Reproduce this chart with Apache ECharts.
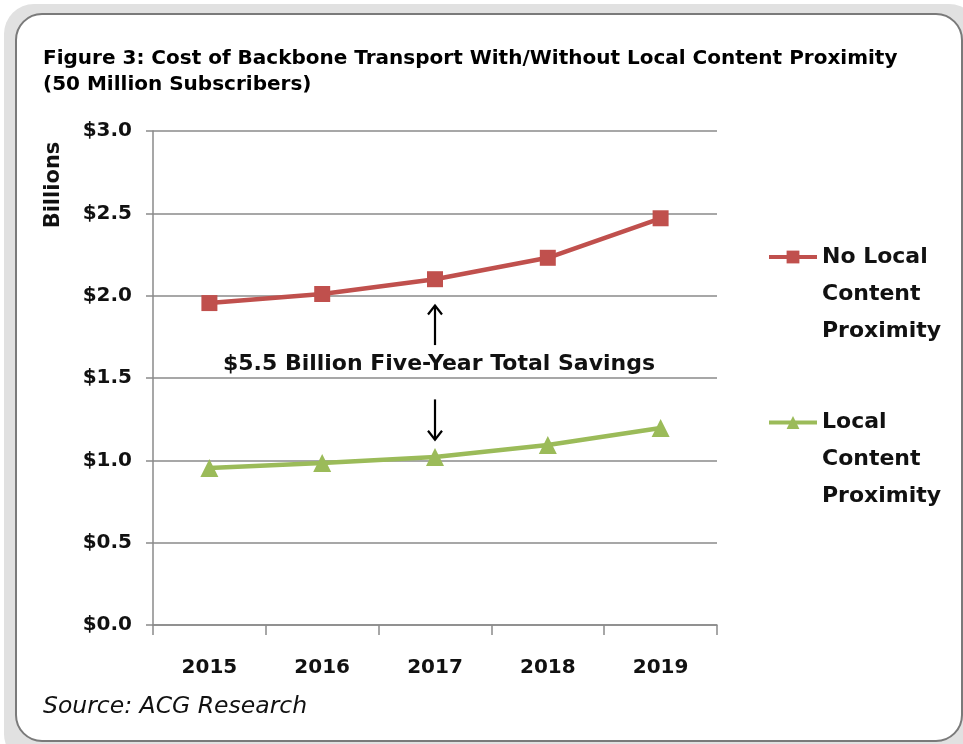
<!DOCTYPE html>
<html>
<head>
<meta charset="utf-8">
<script src="https://cdn.jsdelivr.net/npm/echarts@6/dist/echarts.min.js"></script>
<style>
html,body{margin:0;padding:0;background:#fff;}
#c{width:963px;height:744px;}
</style>
</head>
<body>
<div id="c"></div>
<script>
const categories = ['2015', '2016', '2017', '2018', '2019'];
const noLocal = [1.955, 2.01, 2.10, 2.23, 2.47];
const local = [0.953, 0.984, 1.02, 1.093, 1.196];
const yTicks = [0, 0.5, 1.0, 1.5, 2.0, 2.5, 3.0];
const seriesNames = ['No Local Content Proximity', 'Local Content Proximity'];
const titleText = 'Figure 3: Cost of Backbone Transport With/Without Local Content Proximity\n(50 Million Subscribers)';
const annotation = '$5.5 Billion Five-Year Total Savings';
const sourceText = 'Source: ACG Research';
const yAxisName = 'Billions';

const FONT = '"DejaVu Sans"';
const chart = echarts.init(document.getElementById('c'));
const LH = 37;
function splitName(n) {
  const parts = n.split(' Content ');
  return '{e|}\n{e|}\n{a|' + parts[0] + '}\n{a|Content}\n{a|' + parts[1] + '}';
}
const legendText = {
  fontFamily: FONT, fontWeight: 'bold', fontSize: 22, color: '#111', lineHeight: LH,
  rich: {
    a: { fontFamily: FONT, fontWeight: 'bold', fontSize: 22, color: '#111', lineHeight: LH, height: LH },
    e: { height: LH, lineHeight: LH, fontSize: 22 }
  }
};
const legendCommon = {
  orient: 'vertical', left: 762, itemWidth: 48, itemHeight: 16, itemGap: 0,
  formatter: splitName, textStyle: legendText, selectedMode: false,
  lineStyle: { width: 4 }
};
const option = {
  animation: false,
  backgroundColor: '#fff',
  title: {
    text: titleText,
    left: 38, top: 41,
    textStyle: { fontFamily: FONT, fontWeight: 'bold', fontSize: 20, color: '#000', lineHeight: 26 }
  },
  grid: { left: 153, right: 246, top: 131, bottom: 119, containLabel: false },
  legend: [
    Object.assign({ data: [seriesNames[0]], top: 159.5 }, legendCommon),
    Object.assign({ data: [seriesNames[1]], top: 325 }, legendCommon)
  ],
  xAxis: {
    type: 'category', data: categories, boundaryGap: true,
    axisLine: { lineStyle: { color: '#8a8a8a', width: 1.5 } },
    axisTick: { show: true, length: 10, lineStyle: { color: '#8a8a8a', width: 1.5 } },
    axisLabel: { fontFamily: FONT, fontWeight: 'bold', fontSize: 20, color: '#111', margin: 43, verticalAlign: 'middle' }
  },
  yAxis: {
    type: 'value', min: 0, max: 3, interval: 0.5,
    axisLine: { show: true, lineStyle: { color: '#8a8a8a', width: 1.5 } },
    axisTick: { show: true, length: 7, lineStyle: { color: '#8a8a8a', width: 1.5 } },
    splitLine: { show: true, lineStyle: { color: '#8a8a8a', width: 1.5 } },
    axisLabel: {
      fontFamily: FONT, fontWeight: 'bold', fontSize: 20, color: '#111', margin: 21,
      formatter: v => '$' + v.toFixed(1)
    }
  },
  series: [
    {
      name: seriesNames[0], type: 'line', data: noLocal,
      symbol: 'rect', symbolSize: 16,
      lineStyle: { color: '#C0504D', width: 4.5 },
      itemStyle: { color: '#C0504D' }
    },
    {
      name: seriesNames[1], type: 'line', data: local,
      symbol: 'triangle', symbolSize: 18,
      lineStyle: { color: '#9BBB59', width: 4.5 },
      itemStyle: { color: '#9BBB59' }
    }
  ]
};
chart.setOption(option);

function drawGraphics() {
  const up1 = chart.convertToPixel({ gridIndex: 0 }, ['2017', 1.94]);
  const up0 = chart.convertToPixel({ gridIndex: 0 }, ['2017', 1.70]);
  const dn0 = chart.convertToPixel({ gridIndex: 0 }, ['2017', 1.37]);
  const dn1 = chart.convertToPixel({ gridIndex: 0 }, ['2017', 1.125]);
  const txt = chart.convertToPixel({ gridIndex: 0 }, ['2017', 1.585]);
  const arrowStyle = { stroke: '#000', lineWidth: 2.2, fill: null };
  const ah = 7;
  chart.setOption({
    graphic: [
      { type: 'rect', z: -10, silent: true, shape: { x: 4, y: 4, width: 975, height: 760, r: 30 },
        style: { fill: '#e1e1e1' } },
      { type: 'rect', z: -9, silent: true, shape: { x: 16, y: 14, width: 946, height: 727, r: 26 },
        style: { fill: '#fff', stroke: '#7a7a7a', lineWidth: 2 } },
      { type: 'line', shape: { x1: up0[0], y1: up0[1], x2: up1[0], y2: up1[1] }, style: arrowStyle },
      { type: 'polyline', shape: { points: [[up1[0] - ah, up1[1] + ah + 2], [up1[0], up1[1]], [up1[0] + ah, up1[1] + ah + 2]] }, style: arrowStyle },
      { type: 'line', shape: { x1: dn0[0], y1: dn0[1], x2: dn1[0], y2: dn1[1] }, style: arrowStyle },
      { type: 'polyline', shape: { points: [[dn1[0] - ah, dn1[1] - ah - 2], [dn1[0], dn1[1]], [dn1[0] + ah, dn1[1] - ah - 2]] }, style: arrowStyle },
      { type: 'text', x: txt[0] + 4, y: txt[1],
        style: { text: annotation, fontFamily: FONT, fontWeight: 'bold', fontSize: 22, fill: '#111',
          align: 'center', verticalAlign: 'middle' } },
      { type: 'text', x: 54, y: 185, rotation: Math.PI / 2,
        style: { text: yAxisName, fontFamily: FONT, fontWeight: 'bold', fontSize: 21, fill: '#111',
          align: 'center', verticalAlign: 'middle' } },
      { type: 'text', x: 43, y: 707,
        style: { text: sourceText, fontFamily: FONT, fontStyle: 'italic', fontSize: 23.5, fill: '#111',
          align: 'left', verticalAlign: 'middle' } }
    ]
  });
}
drawGraphics();
</script>
</body>
</html>
